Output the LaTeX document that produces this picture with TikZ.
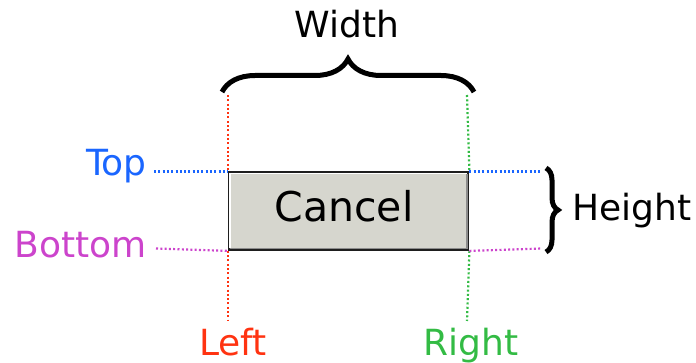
\documentclass[tikz,border=0pt]{standalone}
\usepackage{fontspec}
\setmainfont{DejaVu Sans}
\usetikzlibrary{decorations.pathreplacing}
\definecolor{topblue}{RGB}{26,102,255}
\definecolor{botmag}{RGB}{204,68,204}
\definecolor{leftred}{RGB}{255,51,17}
\definecolor{rightgreen}{RGB}{51,187,68}
\definecolor{btnfill}{RGB}{214,214,206}
\definecolor{btnedge}{RGB}{30,30,30}
\begin{document}
\begin{tikzpicture}[x=1pt,y=-1pt,
  guide/.style={line width=2.2pt,line cap=butt,dash pattern=on 2pt off 2.3pt},
  label/.style={inner sep=0pt,font=\fontsize{36}{40}\selectfont},
  bracestyle/.style={line width=5pt,decorate,decoration={brace,amplitude=#1}}]
\useasboundingbox (0,0) rectangle (696,363);

% the button
\node[draw=btnedge,line width=2.4pt,fill=btnfill,minimum width=239pt,minimum height=77pt,
      inner sep=0pt,anchor=north west] (btn) at (228,171.5) {};
\draw[white,line width=1.6pt] ([shift={(2.2,-2.4)}]btn.south west) -- ([shift={(2.2,2.2)}]btn.north west) -- ([shift={(-2.4,2.2)}]btn.north east);
\draw[black!45,line width=1.6pt] ([shift={(2.2,-2.2)}]btn.south west) -- ([shift={(-2.2,-2.2)}]btn.south east) -- ([shift={(-2.2,2.2)}]btn.north east);
\node[inner sep=0pt,anchor=base,font=\fontsize{41}{45}\selectfont] (cap) at (344,222) {Cancel};

% guide end points
\coordinate (lt) at (228,95);
\coordinate (lb) at (228,321);
\coordinate (rt) at (467,95);
\coordinate (rb) at (467,321);
\coordinate (tl) at (154,171.5);
\coordinate (tr) at (542,171.5);
\coordinate (bl) at (156,248.5);
\coordinate (br) at (542,248.5);

% dotted guides
\draw[guide,leftred] (lt) -- (btn.north west);
\draw[guide,leftred] (btn.south west) -- (lb);
\draw[guide,rightgreen] (rt) -- (btn.north east);
\draw[guide,rightgreen] (btn.south east) -- (rb);
\draw[guide,topblue] (tl) -- (btn.north west);
\draw[guide,topblue] (btn.north east) -- (tr);
\draw[guide,botmag] (bl) -- (btn.south west);
\draw[guide,botmag] (btn.south east) -- (br);

% braces
\coordinate (wl) at (222,92);
\coordinate (wr) at (474,92);
\coordinate (ht) at (546,168);
\coordinate (hb) at (546,252);
\draw[bracestyle=33pt] (wl) -- (wr);
\draw[bracestyle=12pt] (ht) -- (hb);

% labels
\node[label,anchor=base] (width) at (347,38) {Width};
\node[label,anchor=base west] (height) at (572,221) {Height};
\node[label,anchor=base east,text=topblue] (top) at (147,176) {Top};
\node[label,anchor=base east,text=botmag] (bottom) at (147,258) {Bottom};
\node[label,anchor=base,text=leftred] (left) at (233,355) {Left};
\node[label,anchor=base,text=rightgreen] (right) at (471,355) {Right};
\end{tikzpicture}
\end{document}
